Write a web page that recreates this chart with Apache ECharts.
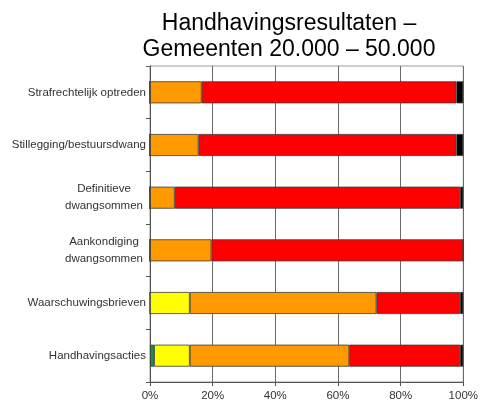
<!DOCTYPE html>
<html>
<head>
<meta charset="utf-8">
<script src="https://cdn.jsdelivr.net/npm/echarts@6/dist/echarts.min.js"></script>
<style>
  html, body { margin: 0; padding: 0; background: #fff; }
  #chart { width: 481px; height: 408px; }
</style>
</head>
<body>
<div id="chart"></div>
<script>
// Measures, listed top to bottom
const categories = [
  'Strafrechtelijk optreden',
  'Stillegging/bestuursdwang',
  'Definitieve\ndwangsommen',
  'Aankondiging\ndwangsommen',
  'Waarschuwingsbrieven',
  'Handhavingsacties'
];

// Share of each outcome per measure (%)
const green  = [0, 0, 0, 0, 0, 1.3];
const yellow = [0, 0, 0, 0, 12.7, 11.4];
const orange = [16.5, 15.5, 7.9, 19.6, 59.6, 50.9];
const red    = [81.3, 82.3, 91.1, 80.4, 26.7, 35.4];
const black  = [2.2, 2.2, 1.0, 0, 1.0, 1.0];

const xTicks = [0, 20, 40, 60, 80, 100];

const font = 'Arial, "Liberation Sans", sans-serif';

function stackSeries(name, data, color) {
  return {
    name: name,
    type: 'bar',
    stack: 'total',
    data: data,
    barWidth: 22,
    itemStyle: { color: color, borderColor: '#3a3a3a', borderWidth: 0.8 }
  };
}

// Two-line labels: each line centred within a fixed-width box, box right-aligned
function labelFormatter(v) {
  if (v.indexOf('\n') < 0) return v;
  return v.split('\n').map(function (line) { return '{c|' + line + '}'; }).join('\n');
}

const chart = echarts.init(document.getElementById('chart'), null, { renderer: 'canvas' });
chart.setOption({
  animation: false,
  backgroundColor: '#ffffff',
  title: {
    text: 'Handhavingsresultaten –\nGemeenten 20.000 – 50.000',
    left: 284,
    top: 6,
    textAlign: 'center',
    textStyle: {
      fontFamily: font,
      fontSize: 23,
      fontWeight: 'normal',
      color: '#000',
      lineHeight: 26
    }
  },
  grid: {
    left: 150,
    right: 14,
    top: 66,
    bottom: 26,
    show: true,
    borderColor: '#9a9a9a',
    borderWidth: 1
  },
  xAxis: {
    type: 'value',
    min: xTicks[0],
    max: xTicks[xTicks.length - 1],
    interval: 20,
    axisLine: { show: true, lineStyle: { color: '#555', width: 1 } },
    axisTick: { show: true, length: 4, lineStyle: { color: '#555' } },
    splitLine: { show: true, lineStyle: { color: '#6a6a6a', width: 1 } },
    axisLabel: {
      formatter: '{value}%',
      fontFamily: font,
      fontSize: 11.5,
      color: '#333',
      margin: 8
    }
  },
  yAxis: {
    type: 'category',
    data: categories,
    inverse: true,
    axisLine: { show: true, lineStyle: { color: '#555', width: 1 } },
    axisTick: { show: true, length: 4, lineStyle: { color: '#555' } },
    axisLabel: {
      fontFamily: font,
      fontSize: 11.5,
      color: '#333',
      margin: 4,
      align: 'right',
      lineHeight: 17,
      formatter: labelFormatter,
      rich: {
        c: {
          fontFamily: font,
          fontSize: 11.5,
          color: '#333',
          lineHeight: 17,
          width: 84,
          align: 'center'
        }
      }
    }
  },
  series: [
    stackSeries('Groen', green, '#1e8c5a'),
    stackSeries('Geel', yellow, '#ffff00'),
    stackSeries('Oranje', orange, '#ff9900'),
    stackSeries('Rood', red, '#ff0000'),
    stackSeries('Zwart', black, '#000000')
  ]
});
</script>
</body>
</html>
